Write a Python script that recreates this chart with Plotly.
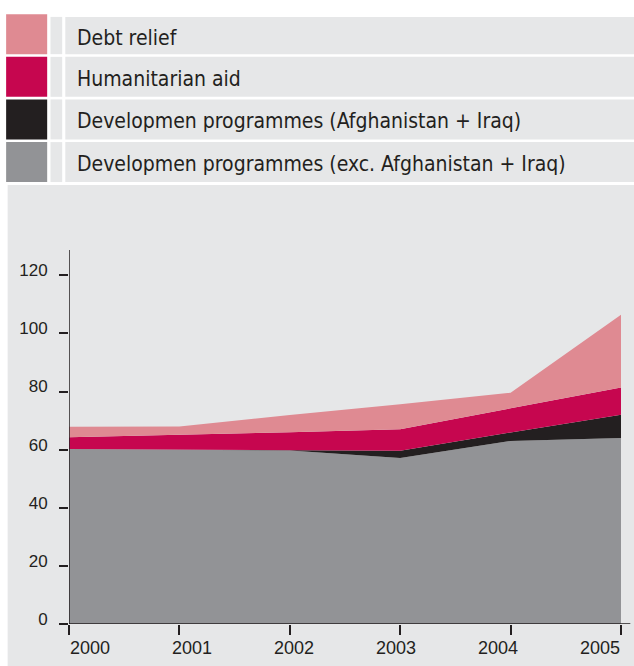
import plotly.graph_objects as go

# Aid volumes by year, stacked
years = [2000, 2001, 2002, 2003, 2004, 2005]
dev_exc_afg_iraq = [60.2, 60.0, 59.7, 57.1, 63.0, 64.0]
dev_afg_iraq = [0.0, 0.0, 0.0, 2.5, 2.9, 8.0]
humanitarian = [4.1, 5.1, 6.3, 7.4, 8.4, 9.4]
debt_relief = [3.6, 2.9, 5.9, 8.6, 5.3, 25.0]

y_ticks = [0, 20, 40, 60, 80, 100, 120]
x_labels = ["2000", "2001", "2002", "2003", "2004", "2005"]

series_names = [
    "Developmen programmes (exc. Afghanistan + Iraq)",
    "Developmen programmes (Afghanistan + Iraq)",
    "Humanitarian aid",
    "Debt relief",
]
series_values = [dev_exc_afg_iraq, dev_afg_iraq, humanitarian, debt_relief]
series_colors = ["#929396", "#231f20", "#c6064f", "#df8a92"]

W, H = 634, 666
PANEL = "#e6e7e8"
INK = "#231f20"
LEGEND_FONT = "DejaVu Sans Condensed, Liberation Sans Narrow, Liberation Sans, sans-serif"

# plot area in pixels
L, R = 69.3, 620.7
T, B = 250.0, 624.3
Y_MAX = 128.7


def px(x):
    return (x - L) / (R - L)


def py(y):
    return (B - y) / (B - T)


fig = go.Figure()
for name, vals, col in zip(series_names, series_values, series_colors):
    fig.add_trace(go.Scatter(
        x=years, y=vals, name=name, stackgroup="aid",
        mode="lines", line=dict(width=0, color=col),
        fillcolor=col, showlegend=False,
    ))

shapes = []
# grey panel behind the chart
shapes.append(dict(type="rect", xref="paper", yref="paper", layer="below",
                   x0=px(8), x1=px(W + 5), y0=py(185), y1=py(H + 5),
                   fillcolor=PANEL, line=dict(width=0)))

# legend rows: swatch, narrow cell, wide label cell
rows = [(14.0, 54.0, 16.7), (56.7, 96.7, 56.7), (99.3, 139.3, 99.3), (142.0, 182.0, 142.0)]
legend_order = [3, 2, 1, 0]
annotations = []
for (sy0, sy1, cy0), idx in zip(rows, legend_order):
    shapes.append(dict(type="rect", xref="paper", yref="paper", layer="below",
                       x0=px(6.5), x1=px(47.5), y0=py(sy0), y1=py(sy1),
                       fillcolor=series_colors[idx], line=dict(width=0)))
    shapes.append(dict(type="rect", xref="paper", yref="paper", layer="below",
                       x0=px(50.8), x1=px(62.5), y0=py(cy0), y1=py(sy1),
                       fillcolor=PANEL, line=dict(width=0)))
    shapes.append(dict(type="rect", xref="paper", yref="paper", layer="below",
                       x0=px(65.6), x1=px(W + 5), y0=py(cy0), y1=py(sy1),
                       fillcolor=PANEL, line=dict(width=0)))
    annotations.append(dict(
        xref="paper", yref="paper", x=px(75.5), y=py((cy0 + sy1) / 2 + 2.0),
        xanchor="left", yanchor="middle", showarrow=False,
        text=series_names[idx],
        font=dict(family=LEGEND_FONT, size=21, color=INK),
    ))

# axis lines
shapes.append(dict(type="line", xref="x", yref="y", x0=2000, x1=2000, y0=0, y1=Y_MAX,
                   line=dict(color=INK, width=1.5)))
shapes.append(dict(type="line", xref="paper", yref="y", x0=0, x1=px(630), y0=0, y1=0,
                   line=dict(color=INK, width=1.5)))

# year labels under the ticks
for i, (yr, lab) in enumerate(zip(years, x_labels)):
    annotations.append(dict(
        xref="x", yref="paper", x=yr, y=py(648.6), xshift=21 - 8.4 * i,
        xanchor="center", yanchor="middle", showarrow=False, text=lab,
        font=dict(family="Liberation Sans", size=18, color=INK),
    ))

fig.update_layout(
    width=W, height=H,
    margin=dict(l=L, r=W - R, t=T, b=H - B, pad=0),
    paper_bgcolor="white", plot_bgcolor=PANEL,
    shapes=shapes, annotations=annotations,
    xaxis=dict(range=[2000, 2005], tickvals=years, ticktext=[""] * len(years),
               ticks="outside", ticklen=10, tickwidth=1.5, tickcolor=INK,
               showgrid=False, zeroline=False, showline=False, fixedrange=True),
    yaxis=dict(range=[0, Y_MAX], tickvals=y_ticks, ticks="outside", ticklen=9,
               tickwidth=1.5, tickcolor=INK, showgrid=False, zeroline=False,
               showline=False, ticklabelstandoff=8, ticklabelshift=-5,
               tickfont=dict(family="Liberation Sans", size=17, color=INK),
               fixedrange=True),
    hovermode=False,
)

fig.write_html("out.html")
